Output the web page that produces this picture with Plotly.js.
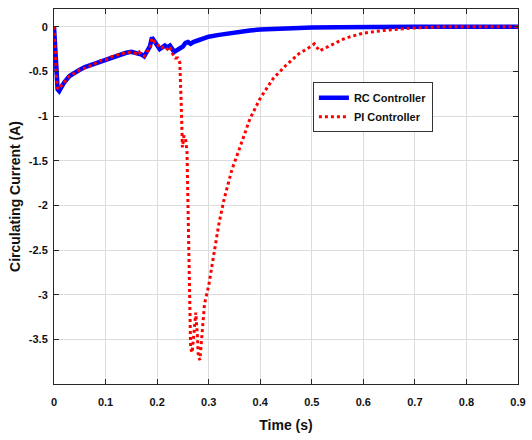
<!DOCTYPE html>
<html>
<head>
<meta charset="utf-8">
<script src="https://cdn.plot.ly/plotly-3.0.1.min.js"></script>
<style>html,body{margin:0;padding:0;background:#fff;}#chart{width:532px;height:440px;}</style>
</head>
<body>
<div id="chart"></div>
<script>
var rcTime = [0,0.003,0.007,0.01,0.015,0.02,0.03,0.04,0.05,0.06,0.07,0.08,0.09,0.1,0.11,0.12,0.13,0.14,0.15,0.16,0.17,0.175,0.18,0.186,0.19,0.195,0.2,0.205,0.21,0.215,0.22,0.225,0.233,0.24,0.25,0.255,0.26,0.265,0.27,0.28,0.29,0.3,0.32,0.34,0.36,0.38,0.4,0.43,0.46,0.5,0.55,0.6,0.7,0.9];
var rcCurrent = [0,-0.35,-0.7,-0.72,-0.66,-0.62,-0.55,-0.51,-0.48,-0.45,-0.43,-0.41,-0.38,-0.36,-0.34,-0.32,-0.3,-0.29,-0.28,-0.29,-0.31,-0.33,-0.28,-0.22,-0.12,-0.16,-0.19,-0.25,-0.23,-0.21,-0.23,-0.21,-0.28,-0.25,-0.22,-0.18,-0.17,-0.19,-0.17,-0.15,-0.13,-0.11,-0.09,-0.07,-0.055,-0.04,-0.03,-0.02,-0.012,-0.008,-0.005,-0.002,0,0];

var piTime = [0,0.003,0.006,0.01,0.015,0.02,0.03,0.04,0.05,0.06,0.07,0.08,0.09,0.1,0.11,0.12,0.13,0.14,0.15,0.16,0.165,0.17,0.175,0.18,0.186,0.19,0.195,0.2,0.205,0.21,0.215,0.22,0.225,0.23,0.235,0.24,0.244,0.247,0.249,0.252,0.255,0.258,0.262,0.265,0.268,0.272,0.275,0.278,0.28,0.283,0.287,0.292,0.3,0.31,0.32,0.33,0.345,0.36,0.38,0.4,0.425,0.45,0.475,0.49,0.505,0.515,0.525,0.54,0.56,0.575,0.6,0.64,0.69,0.75,0.9];
var piCurrent = [0,-0.3,-0.68,-0.7,-0.65,-0.62,-0.55,-0.52,-0.48,-0.46,-0.44,-0.41,-0.38,-0.37,-0.34,-0.32,-0.3,-0.29,-0.28,-0.3,-0.28,-0.32,-0.33,-0.28,-0.25,-0.13,-0.17,-0.18,-0.24,-0.23,-0.22,-0.25,-0.22,-0.3,-0.35,-0.35,-0.4,-0.9,-1.35,-1.22,-1.25,-1.4,-2.5,-3.6,-3.65,-3.35,-3.2,-3.45,-3.7,-3.73,-3.4,-3.1,-2.9,-2.55,-2.2,-1.93,-1.6,-1.36,-1.03,-0.8,-0.58,-0.43,-0.3,-0.25,-0.19,-0.27,-0.24,-0.2,-0.14,-0.11,-0.07,-0.04,-0.015,0,0];

var xTickVals = [0,0.1,0.2,0.3,0.4,0.5,0.6,0.7,0.8,0.9];
var xTickText = ['0','0.1','0.2','0.3','0.4','0.5','0.6','0.7','0.8','0.9'];
var yTickVals = [0,-0.5,-1,-1.5,-2,-2.5,-3,-3.5];
var yTickText = ['0','-0.5','-1','-1.5','-2','-2.5','-3','-3.5'];

var sans = '"Liberation Sans Narrow", "Arial Narrow", Arial, "Liberation Sans", sans-serif';

var traces = [
  {x: rcTime, y: rcCurrent, type: 'scatter', mode: 'lines', name: 'RC Controller',
   line: {color: '#0000ff', width: 4.5}},
  {x: piTime, y: piCurrent, type: 'scatter', mode: 'lines', name: 'PI Controller',
   line: {color: '#ff0000', width: 3, dash: 'dot'}}
];

var axisCommon = {
  showline: true, linecolor: '#262626', linewidth: 1, mirror: 'ticks',
  ticks: 'inside', ticklen: 5, tickcolor: '#262626',
  showgrid: true, gridcolor: '#dcdcdc', gridwidth: 1, zeroline: false,
  tickfont: {family: sans, size: 11, color: '#111', weight: 'bold'}
};

var layout = {
  width: 532, height: 440,
  margin: {l: 54, r: 14, t: 9, b: 56},
  paper_bgcolor: '#fff', plot_bgcolor: '#fff',
  showlegend: true,
  xaxis: Object.assign({}, axisCommon, {
    range: [0, 0.9], tickmode: 'array', tickvals: xTickVals, ticktext: xTickText,
    ticklabelstandoff: 8,
    title: {text: '<b>Time (s)</b>', font: {family: sans, size: 14, color: '#111'}, standoff: 12}
  }),
  yaxis: Object.assign({}, axisCommon, {
    range: [-4, 0.2], tickmode: 'array', tickvals: yTickVals, ticktext: yTickText,
    ticklabelstandoff: 3,
    title: {text: '<b>Circulating Current (A)</b>', font: {family: sans, size: 14, color: '#111'}, standoff: 4}
  }),
  legend: {
    x: 0.558, y: 0.805, xanchor: 'left', yanchor: 'top',
    bgcolor: '#fff', bordercolor: '#333', borderwidth: 1,
    font: {family: sans, size: 11, color: '#111', weight: 'bold'},
    itemwidth: 30, tracegroupgap: 0
  }
};

Plotly.newPlot('chart', traces, layout, {staticPlot: true, displayModeBar: false});
</script>
</body>
</html>
